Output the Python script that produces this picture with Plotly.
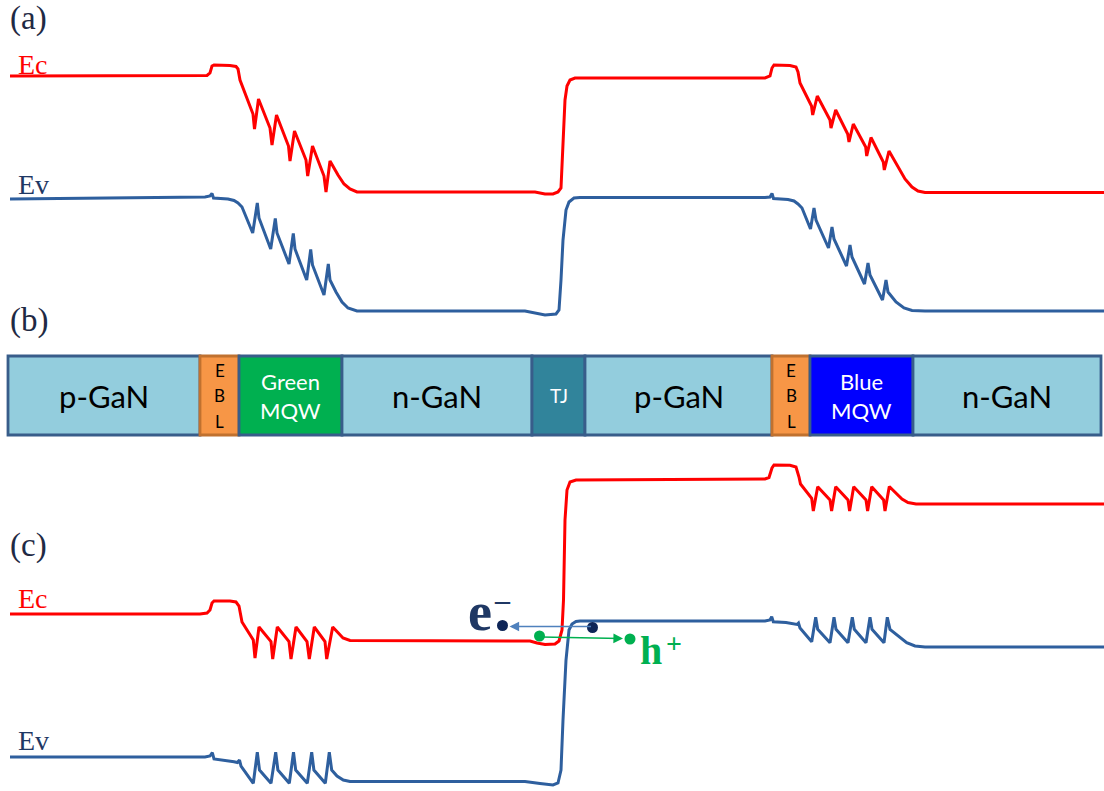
import plotly.graph_objects as go

# ---------------- data: band profiles (device position, energy in chart units; y grows downward) ----------------
a_ec_x = [10, 200, 207, 210, 212, 214, 230, 236, 238, 240, 241.5,
          253, 254.5, 258.5, 270, 272, 276.5, 288.5, 290, 294.5, 306, 307.7, 312.5, 324, 326, 330,
          338, 344, 350, 357, 535, 545, 553, 558, 561, 563, 565, 567, 570, 575,
          765, 770, 772, 774, 790, 796, 798, 800,
          811.5, 812.7, 817.3, 830, 831, 835.7, 847.7, 849, 853.3, 865.7, 866.7, 871, 883.3, 884.3, 889,
          905, 912, 918, 925, 1104]
a_ec_y = [76, 76, 75.5, 73, 66, 65, 65.5, 66.5, 69, 80, 84,
          114, 129, 99, 128, 145, 115, 146, 161, 131, 160, 176, 146, 176, 192, 161,
          175, 184, 189, 192, 192, 194, 194, 192, 188, 150, 100, 86, 80, 78,
          78, 76, 68, 65, 65.5, 67, 72, 83,
          106, 115, 96, 120, 128, 110, 134, 142, 124, 147, 156, 137.5, 162, 170, 151,
          179, 187, 191, 192.5, 192.5]

a_ev_x = [10, 190, 205, 210, 212, 213.5, 228, 234, 238, 242,
          252.7, 257.3, 259, 270.7, 275.3, 277, 289, 293.3, 295, 306.7, 310.7, 312.5, 324, 328.3, 330,
          336, 342, 348, 357, 525, 535, 545, 556, 559, 561, 563, 566, 569, 574, 580,
          765, 770, 772, 773.5, 788, 794, 798, 802,
          810.5, 814, 816, 828.5, 832, 834, 846.5, 850, 852, 864.5, 868, 870, 882.5, 886, 888,
          896, 904, 912, 925, 1104]
a_ev_y = [199, 197, 197, 196, 193.5, 198, 199, 200.5, 203, 207,
          233, 203, 218, 249, 218.5, 233, 264, 233.5, 249, 280, 249.5, 265, 295, 264, 280,
          292, 302, 308, 311, 311, 313, 315, 314, 310, 280, 240, 210, 202, 198, 197.5,
          197.5, 197, 193.5, 198.5, 199.5, 201, 204, 208,
          229, 208, 220, 248, 227, 239, 266, 245, 257, 284, 263, 275, 300, 280, 292,
          302, 308, 310.5, 311, 311]

c_ec_x = [10, 200, 207, 210, 212, 214, 230, 236, 239, 241, 242,
          253.3, 255, 259, 271, 272.7, 277.3, 289, 291, 296, 307, 309.3, 314.3, 325, 326.7, 332.7,
          338, 343, 350, 530, 537, 545, 555, 559, 562, 563.5, 565, 567, 570, 576,
          765, 769, 772, 774, 790, 796, 799, 800.5,
          811.7, 813.3, 817.7, 830, 831.6, 835.7, 848, 849.6, 853.7, 866, 867.6, 871.7, 883.6, 885, 889.3,
          896, 902, 908, 916, 1104]
c_ec_y = [614, 614, 613, 610, 603, 601, 601, 602, 606, 618, 622,
          640, 658, 627, 641.5, 659, 627, 641.5, 659, 627, 641.5, 659, 627, 641.5, 659, 627,
          633, 638, 640.5, 641, 643, 644.5, 644, 641, 630, 600, 520, 490, 482, 480,
          479, 477.5, 468, 465, 465.3, 467, 477, 484,
          498.3, 511, 486.7, 500, 511, 486.7, 500, 511, 486.7, 500, 511, 486.7, 500, 511, 486.5,
          493, 499, 502.5, 504, 504]

c_ev_x = [10, 205, 210, 212.3, 214, 228, 234, 237.5, 239.5, 241,
          253.3, 257.3, 259.5, 271, 275.7, 277.9, 289.3, 293.5, 295.7, 307.3, 311.7, 313.9, 325.3, 329.3, 331.7,
          337, 343.3, 350, 525, 540, 553, 558, 561, 563, 566, 569, 572, 576, 580,
          765, 770, 771.7, 773.3, 786, 791.7, 797, 798.5, 800,
          811.7, 815.7, 817.7, 830, 834, 836, 848, 852.3, 854.3, 866, 870, 872, 884, 887.3, 890,
          898, 906.7, 915, 925, 1104]
c_ev_y = [757, 757, 756, 752.7, 759, 760.5, 761.7, 762.5, 760, 766,
          783.3, 752.3, 770, 783.3, 752.3, 770, 783.3, 752.3, 770, 783.3, 752.3, 770, 783.3, 752.3, 770,
          776, 780, 781.5, 781.5, 783.5, 785, 783, 770, 720, 660, 630, 624, 621.5, 621,
          621, 620, 616.7, 621.7, 622.5, 623.3, 624.5, 623, 628,
          641.7, 617.3, 629.3, 642.7, 617.3, 629.3, 642.7, 617.3, 629.3, 642.7, 617.3, 629.3, 642.7, 617.3, 629.3,
          636, 642.7, 646, 647, 647]

# ---------------- data: layer structure (panel b) ----------------
layer_lines = [["p-GaN"], ["E", "B", "L"], ["Green", "MQW"], ["n-GaN"], ["TJ"],
               ["p-GaN"], ["E", "B", "L"], ["Blue", "MQW"], ["n-GaN"]]
layer_start = [8, 200, 239, 342, 532, 585, 772, 810, 913]
layer_end = [200, 239, 342, 532, 585, 772, 810, 913, 1101]
layer_fill = ["#93CDDD", "#F79646", "#00B050", "#93CDDD", "#31849B", "#93CDDD", "#F79646", "#0000FF", "#93CDDD"]
layer_edge = ["#385D8A", "#C0712F", "#385D8A", "#385D8A", "#385D8A", "#385D8A", "#C0712F", "#385D8A", "#385D8A"]
layer_text_color = ["#000000", "#000000", "#FFFFFF", "#000000", "#FFFFFF", "#000000", "#000000", "#FFFFFF", "#000000"]
layer_text_size = [31, 17, 22, 31, 19, 31, 17, 22, 31]
layer_line_pitch = [0, 25.5, 29, 0, 0, 0, 25.5, 29, 0]
bar_top, bar_bottom = 356, 435

# ---------------- data: carriers at the tunnel junction (panel c) ----------------
electron_x = [502.5, 592.5]
electron_y = [625.5, 627.5]
hole_x = [539.5, 630]
hole_y = [636, 639]

RED = "#FF0000"
BLUE = "#2E5F9E"
NAVY = "#1F3864"
GREEN = "#00B050"

fig = go.Figure()

# structure bars
widths = [e - s for s, e in zip(layer_start, layer_end)]
fig.add_trace(go.Bar(
    orientation="h",
    y=[(bar_top + bar_bottom) / 2] * len(widths),
    x=widths, base=layer_start, width=[bar_bottom - bar_top] * len(widths),
    marker=dict(color=layer_fill, line=dict(color=layer_edge, width=2.8)),
    hoverinfo="skip", showlegend=False,
))

for xs, ys, col in [(a_ec_x, a_ec_y, RED), (a_ev_x, a_ev_y, BLUE), (c_ec_x, c_ec_y, RED), (c_ev_x, c_ev_y, BLUE)]:
    fig.add_trace(go.Scatter(x=xs, y=ys, mode="lines", line=dict(color=col, width=3),
                             hoverinfo="skip", showlegend=False))

annotations = []
sans = "Lato, Carlito, sans-serif"
ymid = (bar_top + bar_bottom) / 2
for lines, s, e, tc, ts, pitch in zip(layer_lines, layer_start, layer_end, layer_text_color,
                                      layer_text_size, layer_line_pitch):
    n = len(lines)
    for i, t in enumerate(lines):
        annotations.append(dict(x=(s + e) / 2, y=ymid + (i - (n - 1) / 2) * pitch, text=t, showarrow=False,
                                font=dict(family=sans, size=ts, color=tc),
                                xanchor="center", yanchor="middle"))

serif = "Liberation Serif, Times New Roman, serif"
panel_labels = [("(a)", 8, 18), ("(b)", 8, 320), ("(c)", 8, 545)]
for t, x, y in panel_labels:
    annotations.append(dict(x=x, y=y, text=t, showarrow=False, xanchor="left", yanchor="middle",
                            font=dict(family=serif, size=33, color="#1F2A44")))
band_labels = [("Ec", 16, 64, RED), ("Ev", 16, 184, NAVY), ("Ec", 16, 598, RED), ("Ev", 16, 740, NAVY)]
for t, x, y, c in band_labels:
    annotations.append(dict(x=x, y=y, text=t, showarrow=False, xanchor="left", yanchor="middle",
                            font=dict(family=serif, size=28, color=c)))

# arrows
annotations.append(dict(x=electron_x[0] + 7, y=626.5, ax=electron_x[1], ay=626.5, xref="x", yref="y",
                        axref="x", ayref="y", text="", showarrow=True, arrowhead=2, arrowsize=1.2,
                        arrowwidth=1.6, arrowcolor="#4F81BD"))
annotations.append(dict(x=hole_x[1] - 7, y=638.5, ax=hole_x[0], ay=637, xref="x", yref="y",
                        axref="x", ayref="y", text="", showarrow=True, arrowhead=2, arrowsize=1.2,
                        arrowwidth=1.6, arrowcolor=GREEN))
annotations.append(dict(x=494, y=612, text="<b>e</b>", showarrow=False, xanchor="right", yanchor="middle",
                        font=dict(family=serif, size=54, color=NAVY)))
annotations.append(dict(x=492, y=599, text="<b>\u2013</b>", showarrow=False, xanchor="left", yanchor="middle",
                        font=dict(family=serif, size=30, color=NAVY)))
annotations.append(dict(x=638, y=650, text="<b>h</b>", showarrow=False, xanchor="left", yanchor="middle",
                        font=dict(family=serif, size=40, color=GREEN)))
annotations.append(dict(x=664, y=643, text="<b>+</b>", showarrow=False, xanchor="left", yanchor="middle",
                        font=dict(family=serif, size=28, color=GREEN)))

fig.add_trace(go.Scatter(x=electron_x, y=electron_y, mode="markers",
                         marker=dict(color="#0E2557", size=11), hoverinfo="skip", showlegend=False))
fig.add_trace(go.Scatter(x=hole_x, y=hole_y, mode="markers",
                         marker=dict(color=GREEN, size=11), hoverinfo="skip", showlegend=False))

fig.update_layout(
    width=1104, height=791, margin=dict(l=0, r=0, t=0, b=0),
    paper_bgcolor="white", plot_bgcolor="white", showlegend=False,
    xaxis=dict(range=[0, 1104], visible=False, fixedrange=True),
    yaxis=dict(range=[791, 0], visible=False, fixedrange=True),
    barmode="overlay", annotations=annotations,
)
fig.write_html("out.html")
